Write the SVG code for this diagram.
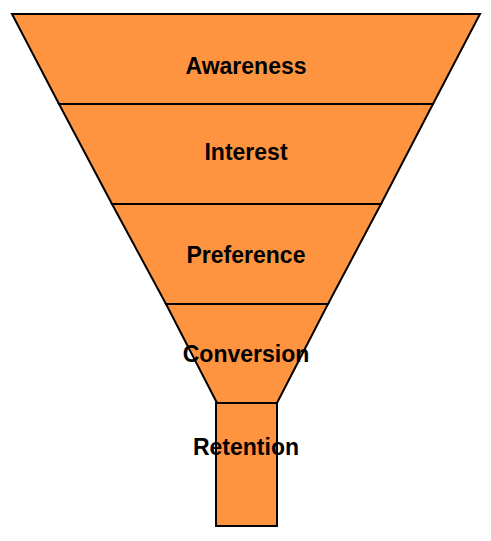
<svg xmlns="http://www.w3.org/2000/svg" width="491" height="541" viewBox="0 0 491 541">
<style>
.s{fill:#FF9440;stroke:#000;stroke-width:2;stroke-linejoin:miter}
.t{font-family:"Liberation Sans",Arial,sans-serif;font-weight:bold;font-size:23px;fill:#000;text-anchor:middle}
</style>
<rect width="491" height="541" fill="#fff"/>
<g id="awareness">
<polygon class="s" points="12,14 480,14 433,104 59,104"/>
<text class="t" x="246" y="74">Awareness</text>
</g>
<g id="interest">
<polygon class="s" points="59,104 433,104 381,204 112,204"/>
<text class="t" x="246" y="160">Interest</text>
</g>
<g id="preference">
<polygon class="s" points="112,204 381,204 328,304 166,304"/>
<text class="t" x="246" y="263">Preference</text>
</g>
<g id="conversion">
<polygon class="s" points="166,304 328,304 277,403 217,403"/>
</g>
<g id="retention">
<rect class="s" x="216" y="403" width="61" height="123"/>
</g>
<g id="labels">
<text class="t" x="246" y="362">Conversion</text>
<text class="t" x="246" y="455">Retention</text>
</g>
<g id="connectors"></g>
</svg>
